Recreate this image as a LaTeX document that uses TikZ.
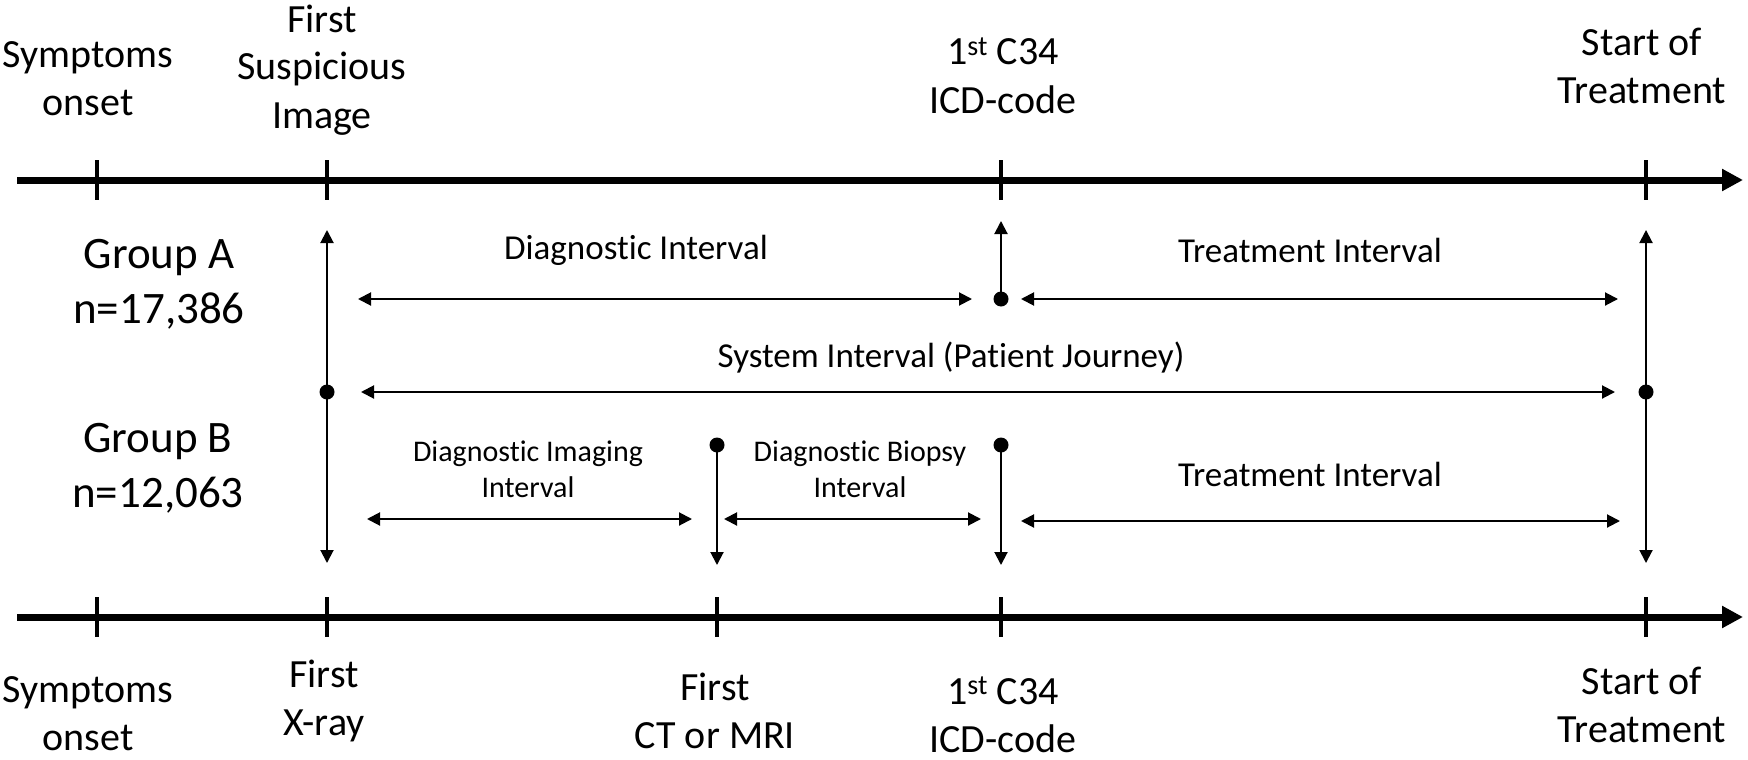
\documentclass[tikz,border=0pt]{standalone}
\usepackage{fontspec}
\setmainfont{Carlito}[Ligatures=NoCommon]
\usetikzlibrary{arrows.meta}
\begin{document}
\begin{tikzpicture}[x=1pt,y=-1pt,
  axisline/.style={line width=7pt,-{Triangle[length=21pt,width=21pt]}},
  tickmark/.style={line width=4pt},
  conn/.style={line width=2pt,-{Triangle[length=13pt,width=13pt]}},
  span/.style={line width=2pt,{Triangle[length=13pt,width=13pt]}-{Triangle[length=13pt,width=13pt]}},
  dot/.style={circle,fill=black,inner sep=0pt,minimum size=15pt},
  axlab/.style={font=\fontsize{40}{48}\selectfont,align=center,anchor=base,inner sep=0pt},
  grplab/.style={font=\fontsize{45}{55}\selectfont,align=center,anchor=base,inner sep=0pt},
  intlab/.style={font=\fontsize{35}{42}\selectfont,anchor=base,inner sep=0pt},
  smalllab/.style={font=\fontsize{30}{36}\selectfont,align=center,anchor=base,inner sep=0pt}]
\useasboundingbox (0,0) rectangle (1748,760);

% axes
\coordinate (topL) at (17,180);
\coordinate (topR) at (1743,180);
\coordinate (botL) at (17,617);
\coordinate (botR) at (1743,617);
\draw[axisline] (topL) -- (topR);
\draw[axisline] (botL) -- (botR);

% ticks
\foreach \n/\x in {a/97,b/327,c/1001,d/1646}{
  \coordinate (tt\n1) at (\x,160);
  \coordinate (tt\n2) at (\x,200);
  \draw[tickmark] (tt\n1) -- (tt\n2);
}
\foreach \n/\x in {a/97,b/327,e/717,c/1001,d/1646}{
  \coordinate (bt\n1) at (\x,597);
  \coordinate (bt\n2) at (\x,637);
  \draw[tickmark] (bt\n1) -- (bt\n2);
}

% top labels (anchor = baseline of last line)
\node[axlab] (lSymT) at (88,115) {Symptoms\\onset};
\node[axlab] (lFSI) at (322,128) {First\\Suspicious\\Image};
\node[axlab] (lICDT) at (1003,113) {1\textsuperscript{st} C34\\ICD-code};
\node[axlab] (lStT) at (1642,103) {Start of\\Treatment};

% bottom labels
\node[axlab] (lSymB) at (88,750) {Symptoms\\onset};
\node[axlab] (lXray) at (324,735) {First\\X-ray};
\node[axlab] (lCT) at (715,748) {First\\CT or MRI};
\node[axlab] (lICDB) at (1003,752) {1\textsuperscript{st} C34\\ICD-code};
\node[axlab] (lStB) at (1642,742) {Start of\\Treatment};

% groups
\node[grplab] (gA) at (159,323) {Group A\\n=17,386};
\node[grplab] (gB) at (158,507) {Group B\\n=12,063};

% dots
\node[dot] (dSI) at (327,392) {};
\node[dot] (dICDA) at (1001,299) {};
\node[dot] (dST) at (1646,392) {};
\node[dot] (dCT) at (717,445) {};
\node[dot] (dICDB) at (1001,445) {};

% vertical tips
\coordinate (uSI) at (327,230);
\coordinate (wSI) at (327,563);
\coordinate (uICD) at (1001,221);
\coordinate (uST) at (1646,230);
\coordinate (wST) at (1646,563);
\coordinate (wCT) at (717,565);
\coordinate (wICD) at (1001,565);

\draw[conn] (dSI.center) -- (uSI);
\draw[conn] (dSI.center) -- (wSI);
\draw[conn] (dICDA.center) -- (uICD);
\draw[conn] (dST.center) -- (uST);
\draw[conn] (dST.center) -- (wST);
\draw[conn] (dCT.center) -- (wCT);
\draw[conn] (dICDB.center) -- (wICD);

% horizontal spans
\coordinate (dgL) at (358,299); \coordinate (dgR) at (972,299);
\coordinate (taL) at (1021,299); \coordinate (taR) at (1618,299);
\coordinate (syL) at (361,392); \coordinate (syR) at (1615,392);
\coordinate (imL) at (367,519); \coordinate (imR) at (692,519);
\coordinate (biL) at (724,519); \coordinate (biR) at (981,519);
\coordinate (tbL) at (1021,521); \coordinate (tbR) at (1620,521);
\draw[span] (dgL) -- (dgR);
\draw[span] (taL) -- (taR);
\draw[span] (syL) -- (syR);
\draw[span] (imL) -- (imR);
\draw[span] (biL) -- (biR);
\draw[span] (tbL) -- (tbR);

% interval labels
\node[intlab] (lDiag) at (636,259) {Diagnostic Interval};
\node[intlab] (lTrA) at (1310,262) {Treatment Interval};
\node[intlab] (lSys) at (951,367) {System Interval (Patient Journey)};
\node[smalllab] (lImg) at (528,497) {Diagnostic Imaging\\Interval};
\node[smalllab] (lBio) at (860,497) {Diagnostic Biopsy\\Interval};
\node[intlab] (lTrB) at (1310,486) {Treatment Interval};
\end{tikzpicture}
\end{document}
